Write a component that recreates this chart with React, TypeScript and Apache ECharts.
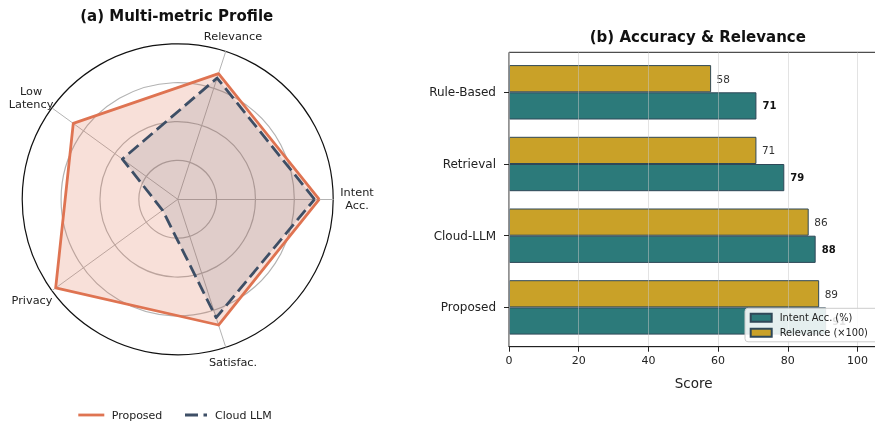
import React, { useEffect, useRef } from "react";
import * as echarts from "echarts";

// ---- data ----
const radarAxes = ["Intent\nAcc.", "Relevance", "Low\nLatency", "Privacy", "Satisfac."];
const proposedProfile = [0.91, 0.85, 0.83, 0.97, 0.85];
const cloudProfile = [0.88, 0.82, 0.44, 0.12, 0.8];

const methods = ["Rule-Based", "Retrieval", "Cloud-LLM", "Proposed"];
const intentAcc = [71, 79, 88, 91];
const relevance = [58, 71, 86, 89];

const FONT = '"DejaVu Sans", sans-serif';
const ORANGE = "#DF7452";
const SLATE = "#3E4F66";
const TEAL = "#2C7A7A";
const GOLD = "#C9A128";
const EDGE = "#2F4858";

// radar label placement (layout only)
const radarLabelPos: [number, number][] = [
  [357, 199],
  [233, 36],
  [31, 98],
  [32, 300],
  [233, 362.5],
];

export default function App() {
  const ref = useRef<HTMLDivElement>(null);
  useEffect(() => {
    const chart = echarts.init(ref.current!, null, { renderer: "svg" });
    const gridLeft = 509;
    const gridWidth = 369.4;
    // bottom-to-top order for the (non-inverted) category axis
    const catsBT = methods.slice().reverse();
    const intentBT = intentAcc.slice().reverse();
    const relBT = relevance.slice().reverse();
    const option: any = {
      animation: false,
      textStyle: { fontFamily: FONT },
      radar: {
        center: [177.7, 199.3],
        radius: 155.5,
        startAngle: 0,
        shape: "circle",
        splitNumber: 4,
        indicator: radarAxes.map((n) => ({ name: n, min: 0, max: 1 })),
        axisName: { show: false },
        axisLine: { lineStyle: { color: "#b3b3b3", width: 1 } },
        splitLine: {
          lineStyle: { color: ["#b3b3b3", "#b3b3b3", "#b3b3b3", "#b3b3b3", "#111"], width: 1.2 },
        },
        splitArea: { show: false },
        axisTick: { show: false },
        axisLabel: { show: false },
      },
      grid: [
        {
          left: gridLeft,
          top: 52.3,
          width: gridWidth,
          height: 294.4,
          show: true,
          borderColor: "#222",
          borderWidth: 1,
          backgroundColor: "transparent",
          containLabel: false,
          outerBoundsMode: "none",
        },
        {
          left: gridLeft,
          top: 56.45,
          width: gridWidth,
          height: 286.8,
          containLabel: false,
          outerBoundsMode: "none",
        },
      ],
      xAxis: [
        {
          gridIndex: 0,
          type: "value",
          min: 0,
          max: 106,
          interval: 20,
          z: 3,
          axisLine: { show: true, lineStyle: { color: "#222", width: 1 } },
          axisTick: { show: true, length: 5, lineStyle: { color: "#222" } },
          axisLabel: {
            fontSize: 11,
            color: "#222",
            margin: 8,
            fontFamily: FONT,
            showMaxLabel: false,
          },
          splitLine: { show: true, lineStyle: { color: "rgba(200,200,200,0.5)", width: 1 } },
          name: "Score",
          nameLocation: "middle",
          nameGap: 29,
          nameTextStyle: { fontSize: 13.5, color: "#222", fontFamily: FONT },
        },
        { gridIndex: 1, type: "value", min: 0, max: 106, show: false },
      ],
      yAxis: [
        {
          gridIndex: 0,
          type: "value",
          min: 0,
          max: 1,
          axisLine: { show: false },
          axisTick: { show: false },
          axisLabel: { show: false },
          splitLine: { show: false },
        },
        {
          gridIndex: 1,
          type: "category",
          data: catsBT,
          axisLine: { show: false },
          axisTick: { show: true, alignWithLabel: true, length: 5, lineStyle: { color: "#222" } },
          axisLabel: { fontSize: 12, color: "#222", margin: 13, fontFamily: FONT },
        },
      ],
      legend: {
        orient: "vertical",
        left: 745,
        top: 308.3,
        data: ["Intent Acc. (%)", "Relevance (×100)"],
        icon: "rect",
        itemWidth: 21,
        itemHeight: 8,
        itemGap: 3,
        padding: [3.5, 14, 3, 4.7],
        backgroundColor: "rgba(255,255,255,0.88)",
        borderColor: "#cccccc",
        borderWidth: 1,
        borderRadius: 3,
        textStyle: { fontSize: 9.8, color: "#222", fontFamily: FONT, lineHeight: 12, padding: [0, 0, 0, 3] },
      },
      series: [
        {
          type: "radar",
          symbol: "none",
          data: [
            {
              name: "Proposed",
              value: proposedProfile,
              lineStyle: { color: ORANGE, width: 2.8 },
              areaStyle: { color: ORANGE, opacity: 0.22 },
            },
            {
              name: "Cloud LLM",
              value: cloudProfile,
              lineStyle: { color: SLATE, width: 2.8, type: [13, 5.5] },
              areaStyle: { color: SLATE, opacity: 0.13 },
            },
          ],
        },
        {
          type: "bar",
          name: "Relevance (×100)",
          xAxisIndex: 1,
          yAxisIndex: 1,
          data: relBT,
          barWidth: 27.2,
          barGap: "0%",
          itemStyle: { color: GOLD, borderColor: EDGE, borderWidth: 1 },
          label: {
            show: true,
            position: "right",
            distance: 5.5,
            fontSize: 10.5,
            color: "#333",
            fontFamily: FONT,
          },
        },
        {
          type: "bar",
          name: "Intent Acc. (%)",
          xAxisIndex: 1,
          yAxisIndex: 1,
          data: intentBT,
          barWidth: 27.2,
          barGap: "0%",
          itemStyle: { color: TEAL, borderColor: EDGE, borderWidth: 1 },
          label: {
            show: true,
            position: "right",
            distance: 6,
            fontSize: 10,
            fontWeight: "bold",
            color: "#111",
            fontFamily: FONT,
          },
        },
      ],
      graphic: [
        {
          type: "text",
          x: 176.7,
          y: 16,
          style: {
            text: "(a) Multi-metric Profile",
            fontSize: 15,
            fontWeight: "bold",
            fontFamily: FONT,
            fill: "#111",
            align: "center",
            verticalAlign: "middle",
          },
        },
        {
          type: "text",
          x: 697.8,
          y: 37.3,
          style: {
            text: "(b) Accuracy & Relevance",
            fontSize: 15,
            fontWeight: "bold",
            fontFamily: FONT,
            fill: "#111",
            align: "center",
            verticalAlign: "middle",
          },
        },
        ...radarAxes.map((n, i) => ({
          type: "text",
          x: radarLabelPos[i][0],
          y: radarLabelPos[i][1],
          style: {
            text: n,
            fontSize: 11.3,
            fontFamily: FONT,
            fill: "#222",
            align: "center",
            verticalAlign: "middle",
            lineHeight: 12.3,
          },
        })),
        {
          type: "line",
          shape: { x1: 78.3, y1: 415, x2: 104.3, y2: 415 },
          style: { stroke: ORANGE, lineWidth: 2.8 },
        },
        {
          type: "text",
          x: 111.7,
          y: 415,
          style: { text: "Proposed", fontSize: 11, fontFamily: FONT, fill: "#222", align: "left", verticalAlign: "middle" },
        },
        {
          type: "line",
          shape: { x1: 185, y1: 415, x2: 207, y2: 415 },
          style: { stroke: SLATE, lineWidth: 2.8, lineDash: [13, 5.5] },
        },
        {
          type: "text",
          x: 215,
          y: 415,
          style: { text: "Cloud LLM", fontSize: 11, fontFamily: FONT, fill: "#222", align: "left", verticalAlign: "middle" },
        },
      ],
    };
    chart.setOption(option);
    return () => chart.dispose();
  }, []);
  return (
    <div
      ref={ref}
      style={{ position: "fixed", left: 0, top: 0, width: 875, height: 423 }}
    />
  );
}
